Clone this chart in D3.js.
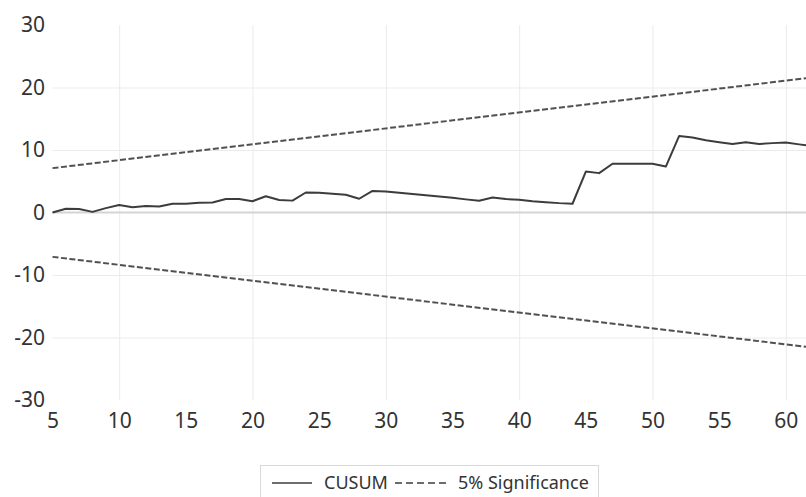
<!DOCTYPE html>
<html>
  <head>
    <meta charset="utf-8">
    <title>CUSUM</title>
    <script src="https://cdn.jsdelivr.net/npm/d3@7"></script>
    <style type="text/css">
      body { margin: 0; background: #fff; }
      text { font-family: "Noto Sans", sans-serif; fill: #333; }
    </style>
  </head>
  <body>
    <script>
    //Width and height
    var svgWidth = 806;
    var svgHeight = 497;

    //Data
    var periods = d3.range(5, 63);
    var cusum = [
      0, 0.6, 0.55, 0.1, 0.7, 1.2, 0.85, 1.05, 0.95, 1.4,
      1.4, 1.55, 1.6, 2.15, 2.15, 1.8, 2.6, 2.0, 1.9, 3.2,
      3.15, 3.0, 2.85, 2.2, 3.45, 3.35, 3.15, 2.95, 2.75, 2.55,
      2.35, 2.1, 1.87, 2.4, 2.15, 2.05, 1.8, 1.65, 1.5, 1.4,
      6.55, 6.3, 7.8, 7.8, 7.8, 7.8, 7.35, 12.25, 12.0, 11.55,
      11.25, 10.95, 11.25, 10.95, 11.1, 11.2, 10.9, 10.6
    ];
    var boundPeriods = [5, 62];
    var upperBound = [7.1, 21.6];
    var lowerBound = [-7.1, -21.6];
    var xTicks = [5, 10, 15, 20, 25, 30, 35, 40, 45, 50, 55, 60];
    var yTicks = [-30, -20, -10, 0, 10, 20, 30];
    var legendLabels = ["CUSUM", "5% Significance"];

    //Scales
    var xScale = d3.scaleLinear().domain([5, 62]).range([52.5, 812.5]);
    var yScale = d3.scaleLinear().domain([-30, 30]).range([400, 25]);

    var svg = d3.select("body")
      .append("svg")
        .attr("width", svgWidth)
        .attr("height", svgHeight);

    //Gridlines (Excel style, faint)
    svg.append("g")
      .attr("transform", "translate(0,400)")
      .call(d3.axisBottom(xScale).tickValues([10, 20, 30, 40, 50, 60]).tickSize(-375).tickFormat(""))
      .call(function(g){ g.select(".domain").remove(); })
      .selectAll("line").attr("stroke", "#ebebeb");

    svg.append("g")
      .attr("transform", "translate(52.5,0)")
      .call(d3.axisLeft(yScale).tickValues([-20, -10, 10, 20]).tickSize(-760).tickFormat(""))
      .call(function(g){ g.select(".domain").remove(); })
      .selectAll("line").attr("stroke", "#ebebeb");

    //Zero line
    svg.append("line")
      .attr("x1", xScale(5)).attr("x2", svgWidth)
      .attr("y1", yScale(0)).attr("y2", yScale(0))
      .attr("stroke", "#d4d4d4").attr("stroke-width", 2);

    //Axes labels, plain hyphen for negatives like the original
    var plain = function(d){ return String(d); };

    var xAxis = svg.append("g")
      .attr("transform", "translate(0,413)")
      .call(d3.axisBottom(xScale).tickValues(xTicks).tickSize(0).tickPadding(0).tickFormat(plain));
    xAxis.select(".domain").remove();
    xAxis.selectAll("text").attr("font-size", "21px").attr("dy", "0.71em").style("fill", "#333");

    var yAxis = svg.append("g")
      .attr("transform", "translate(45,0)")
      .call(d3.axisLeft(yScale).tickValues(yTicks).tickSize(0).tickPadding(0).tickFormat(plain));
    yAxis.select(".domain").remove();
    yAxis.selectAll("text").attr("font-size", "21px").style("fill", "#333");

    //Significance bounds
    var boundLine = d3.line()
      .x(function(d, i){ return xScale(boundPeriods[i]); })
      .y(function(d){ return yScale(d); });

    [upperBound, lowerBound].forEach(function(b){
      svg.append("path")
        .attr("d", boundLine(b))
        .attr("fill", "none")
        .attr("stroke", "#505050")
        .attr("stroke-width", 2)
        .attr("stroke-dasharray", "6,2.5");
    });

    //CUSUM line
    var cusumLine = d3.line()
      .x(function(d, i){ return xScale(periods[i]); })
      .y(function(d){ return yScale(d); });

    svg.append("path")
      .attr("d", cusumLine(cusum))
      .attr("fill", "none")
      .attr("stroke", "#3c3c3c")
      .attr("stroke-width", 2)
      .attr("stroke-linejoin", "round");

    //Legend
    var legend = svg.append("g");
    legend.append("rect")
      .attr("x", 260.5).attr("y", 465.5)
      .attr("width", 338).attr("height", 45)
      .attr("fill", "none").attr("stroke", "#d9d9d9");

    legend.append("line")
      .attr("x1", 272).attr("x2", 312).attr("y1", 483).attr("y2", 483)
      .attr("stroke", "#3c3c3c").attr("stroke-width", 1.5);
    legend.append("text")
      .attr("x", 324).attr("y", 489)
      .attr("font-size", "18px")
      .text(legendLabels[0]);

    legend.append("line")
      .attr("x1", 395).attr("x2", 448).attr("y1", 483).attr("y2", 483)
      .attr("stroke", "#3c3c3c").attr("stroke-width", 1.5)
      .attr("stroke-dasharray", "7,4");
    legend.append("text")
      .attr("x", 458).attr("y", 489)
      .attr("font-size", "18px")
      .text(legendLabels[1]);
    </script>
  </body>
</html>
